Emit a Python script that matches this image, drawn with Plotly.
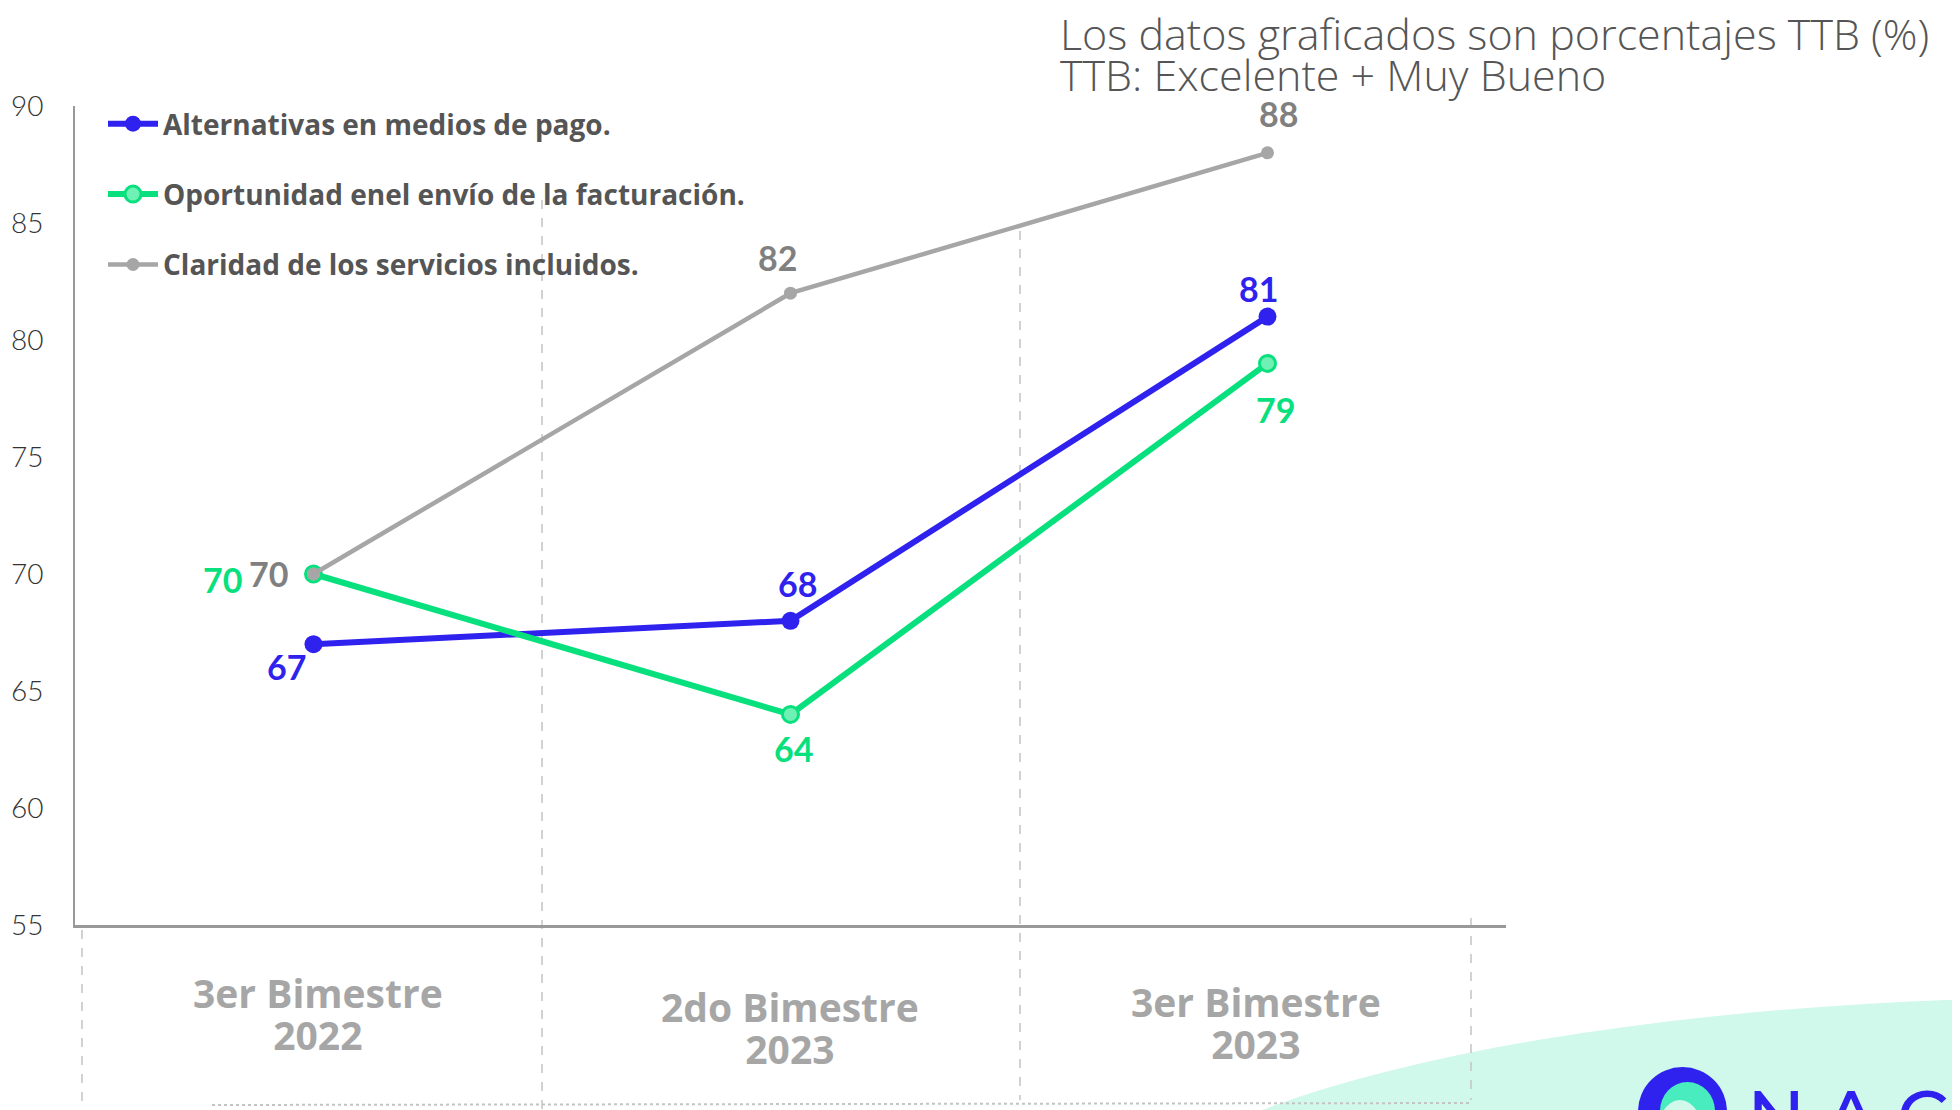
import plotly.graph_objects as go

# ---- data ----
categories = ["3er Bimestre 2022", "2do Bimestre 2023", "3er Bimestre 2023"]
period_labels = ["3er Bimestre", "2do Bimestre", "3er Bimestre"]
year_labels = ["2022", "2023", "2023"]

series_names = [
    "Alternativas en medios de pago.",
    "Oportunidad enel envío de la facturación.",
    "Claridad de los servicios incluidos.",
]
alternativas = [67, 68, 81]
oportunidad = [70, 64, 79]
claridad = [70, 82, 88]

y_ticks = [55, 60, 65, 70, 75, 80, 85, 90]

note_lines = ["Los datos graficados son porcentajes TTB (%)", "TTB: Excelente + Muy Bueno"]

# ---- layout geometry (page pixels; page body has an 8px margin) ----
OFF = 8
W, H = 1960 - OFF, 1110 - OFF
pw, ph = 1431, 819
L, T = 75 - OFF, 106 - OFF
R = W - L - pw
B = H - T - ph

BLUE = "#2f22ee"
GREEN = "#08e07e"
GRAY = "#a6a6a6"
GRAY_LBL = "#808080"
FONT = "Lato"

def px_x(p):
    return (p - OFF - L) / pw

def px_y(p):
    return (T + ph - (p - OFF)) / ph

def span(t, size):
    return f"<span style='font-size:{size}px'>{t}</span>"

fig = go.Figure()

styles = [
    dict(color=BLUE, width=6, msize=18, fill=BLUE, mlw=0, lblcolor=BLUE),
    dict(color=GREEN, width=6, msize=16, fill="#6ff0b4", mlw=3, lblcolor=GREEN),
    dict(color=GRAY, width=4.5, msize=13, fill=GRAY, mlw=0, lblcolor=GRAY_LBL),
]
values = [alternativas, oportunidad, claridad]

for i, (name, vals, st) in enumerate(zip(series_names, values, styles)):
    fig.add_trace(go.Scatter(
        x=categories, y=vals, name=name, mode="lines+markers",
        legendgroup=f"g{i}",
        line=dict(color=st["color"], width=st["width"]),
        marker=dict(size=st["msize"], color=st["fill"],
                    line=dict(color=st["color"], width=st["mlw"])),
        hoverinfo="skip",
    ))

# data label offsets (pixels): per series, per point
offsets = [
    [(-27, -22), (7, 37), (-9, 28)],
    [(-91, -5), (3, -34), (8, -46)],
    [(-45, 1), (-13, 36), (11, 39)],
]
annotations = []
for vals, st, offs in zip(values, styles, offsets):
    for c, v, (dx, dy) in zip(categories, vals, offs):
        annotations.append(dict(
            x=c, y=v, xref="x", yref="y", text=f"<b>{v}</b>", showarrow=False,
            xshift=dx, yshift=dy,
            font=dict(family=FONT, size=34, color=st["lblcolor"]),
        ))

# category labels (two lines): page px centre x, centre y of the block
cat_pos = [(318, 1013), (790, 1027), (1256, 1022)]
for k, (c, p, yr, (cx, cy)) in enumerate(zip(categories, period_labels, year_labels, cat_pos)):
    centre = 75 + pw * (k + 0.5) / 3
    annotations.append(dict(x=c, y=px_y(cy), xref="x", yref="paper",
                            text="<b>" + span(p, 39) + "<br>" + span(yr, 39) + "</b>",
                            showarrow=False, yanchor="middle", xshift=cx - centre,
                            font=dict(family="Open Sans", size=32, color=GRAY)))

# title note (two lines)
annotations.append(dict(
    x=px_x(1058), y=px_y(2), xref="paper", yref="paper", xanchor="left", yanchor="top",
    align="left", showarrow=False,
    text=span(note_lines[0], 43) + "<br>" + span(note_lines[1], 43),
    font=dict(family="Open Sans", size=31.5, color="#555555", weight=300),
))

# logo text
annotations.append(dict(
    x=px_x(1745), y=px_y(1070), xref="paper", yref="paper", xanchor="left", yanchor="top",
    showarrow=False, text="N A C",
    font=dict(family="Montserrat, Lato", size=72, color=BLUE, weight=500),
))

shapes = []
# mint background blob
shapes.append(dict(type="circle", xref="paper", yref="paper", layer="below",
                   x0=px_x(1100), x1=px_x(3100), y0=px_y(1495), y1=px_y(997),
                   fillcolor="#d0f8eb", line=dict(width=0)))
# logo mark
shapes.append(dict(type="circle", xref="paper", yref="paper",
                   x0=px_x(1638), x1=px_x(1727), y0=px_y(1156), y1=px_y(1067),
                   fillcolor=BLUE, line=dict(width=0)))
shapes.append(dict(type="circle", xref="paper", yref="paper",
                   x0=px_x(1660), x1=px_x(1715), y0=px_y(1140), y1=px_y(1082),
                   fillcolor="#48ecbf", line=dict(width=0)))
shapes.append(dict(type="circle", xref="paper", yref="paper",
                   x0=px_x(1660), x1=px_x(1700), y0=px_y(1150), y1=px_y(1100),
                   fillcolor="#d0f8eb", line=dict(width=0)))
# dashed separators
DASH = dict(color="#c4c4c4", width=1.5, dash="dash")
for x, y0, y1 in [(542, 200, 1110), (1020, 231, 1100), (82, 930, 1110), (1471, 918, 1100)]:
    shapes.append(dict(type="line", xref="paper", yref="paper", layer="below",
                       x0=px_x(x), x1=px_x(x), y0=px_y(y0), y1=px_y(y1), line=DASH))
shapes.append(dict(type="line", xref="paper", yref="paper", layer="below",
                   x0=px_x(212), x1=px_x(1471), y0=px_y(1105), y1=px_y(1103),
                   line=dict(color="#c4c4c4", width=2, dash="dot")))

fig.update_layout(
    width=W, height=H, autosize=False,
    margin=dict(l=L, r=R, t=T, b=B, pad=0, autoexpand=False),
    paper_bgcolor="white", plot_bgcolor="white",
    font=dict(family=FONT),
    showlegend=True,
    legend=dict(x=px_x(103), y=px_y(99), xanchor="left", yanchor="top",
                bgcolor="rgba(0,0,0,0)", tracegroupgap=31,
                font=dict(family="Open Sans", size=28, color="#555555", weight="bold"),
                itemwidth=50),
    xaxis=dict(range=[-0.5, 2.5], showticklabels=False, showgrid=False, zeroline=False,
               automargin=False,
               showline=True, linecolor="#999999", linewidth=3, ticks=""),
    yaxis=dict(range=[55, 90], tickvals=y_ticks, showgrid=False, zeroline=False,
               automargin=False,
               showline=True, linecolor="#999999", linewidth=2, ticks="",
               ticklabelstandoff=24,
               tickfont=dict(family=FONT, size=28, color="#333333", weight=300)),
    annotations=annotations,
    shapes=shapes,
)

fig.write_html("out.html")
